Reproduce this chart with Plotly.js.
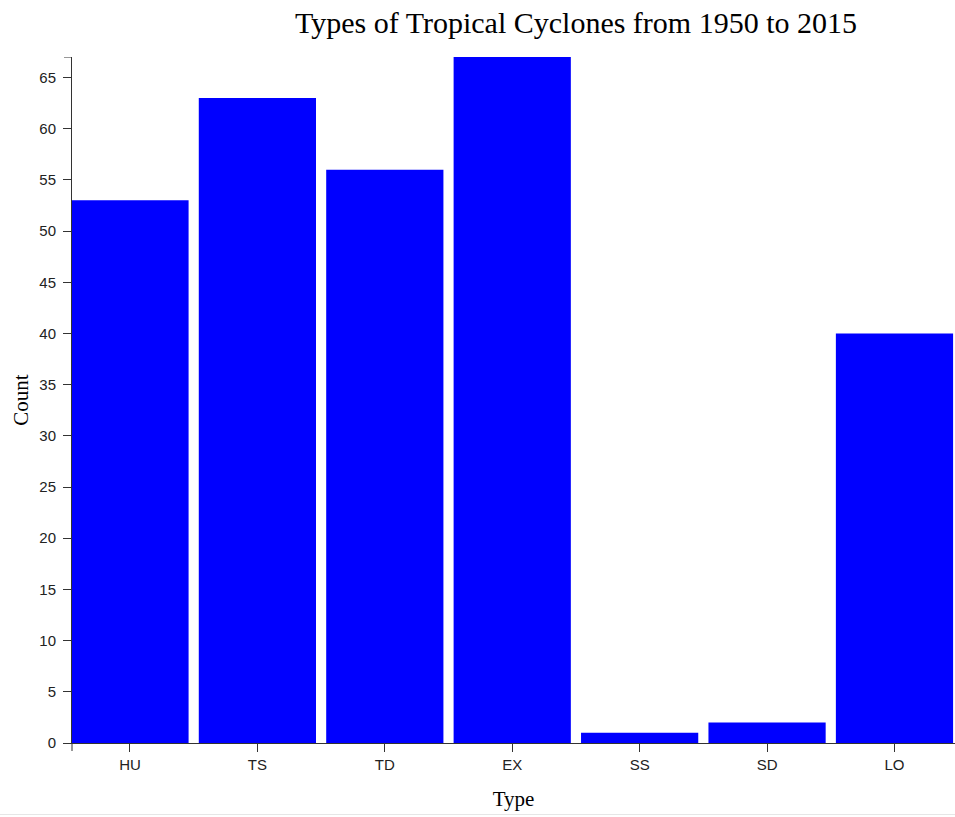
<!DOCTYPE html>
<html>
<head>
<meta charset="utf-8">
<script src="https://cdn.plot.ly/plotly-3.0.1.min.js"></script>
<style>
html,body{margin:0;padding:0;background:#fff;overflow:hidden;}
#chart{width:955px;height:817px;}
#line{position:absolute;left:0;top:814px;width:955px;height:1px;background:#e6e6e6;}
</style>
</head>
<body>
<div id="chart"></div>
<div id="line"></div>
<script>
const categories = ["HU","TS","TD","EX","SS","SD","LO"];
const counts = [53, 63, 56, 67, 1, 2, 40];
const yTicks = [0,5,10,15,20,25,30,35,40,45,50,55,60,65];

const trace = {
  type: 'bar',
  x: categories,
  y: counts,
  marker: {color: '#0000ff', line: {width: 0}},
  hoverinfo: 'x+y'
};

const axisColor = '#333';
const serif = 'Liberation Serif, Times New Roman, serif';
const sans = 'Liberation Sans, Arial, sans-serif';
const layout = {
  width: 955,
  height: 817,
  margin: {l: 72, r: 0, t: 57, b: 74},
  paper_bgcolor: '#fff',
  plot_bgcolor: '#fff',
  bargap: 0.08,
  showlegend: false,
  title: {
    text: 'Types of Tropical Cyclones from 1950 to 2015',
    font: {family: serif, size: 30, color: '#000'},
    x: 576/955, xref: 'container', xanchor: 'center',
    y: 1 - 22/817, yref: 'container', yanchor: 'middle'
  },
  xaxis: {
    type: 'category',
    range: [-0.455, 6.475],
    showgrid: false, zeroline: false,
    showline: true, linecolor: axisColor, linewidth: 1,
    ticks: 'outside', ticklen: 8, tickcolor: axisColor, tickwidth: 1,
    ticklabelstandoff: 0,
    tickfont: {family: sans, size: 15, color: '#222'},
    title: {text: 'Type', font: {family: serif, size: 21, color: '#000'}, standoff: 19},
    fixedrange: true
  },
  yaxis: {
    range: [0, 67],
    tickvals: yTicks,
    showgrid: false, zeroline: false,
    showline: true, linecolor: axisColor, linewidth: 1,
    ticks: 'outside', ticklen: 8, tickcolor: axisColor, tickwidth: 1,
    ticklabelstandoff: 4,
    tickfont: {family: sans, size: 15, color: '#222'},
    title: {text: 'Count', font: {family: serif, size: 21, color: '#000'}, standoff: 4},
    fixedrange: true
  },
  shapes: [
    {type: 'line', xref: 'paper', yref: 'y', xsizemode: 'pixel', xanchor: 0, x0: -8, x1: 0, y0: 67, y1: 67,
     line: {color: axisColor, width: 1}},
    {type: 'line', xref: 'paper', yref: 'paper', ysizemode: 'pixel', yanchor: 0, y0: 0, y1: -8, x0: 0, x1: 0,
     line: {color: axisColor, width: 1}}
  ]
};

Plotly.newPlot('chart', [trace], layout, {displayModeBar: false, staticPlot: true});
</script>
</body>
</html>
